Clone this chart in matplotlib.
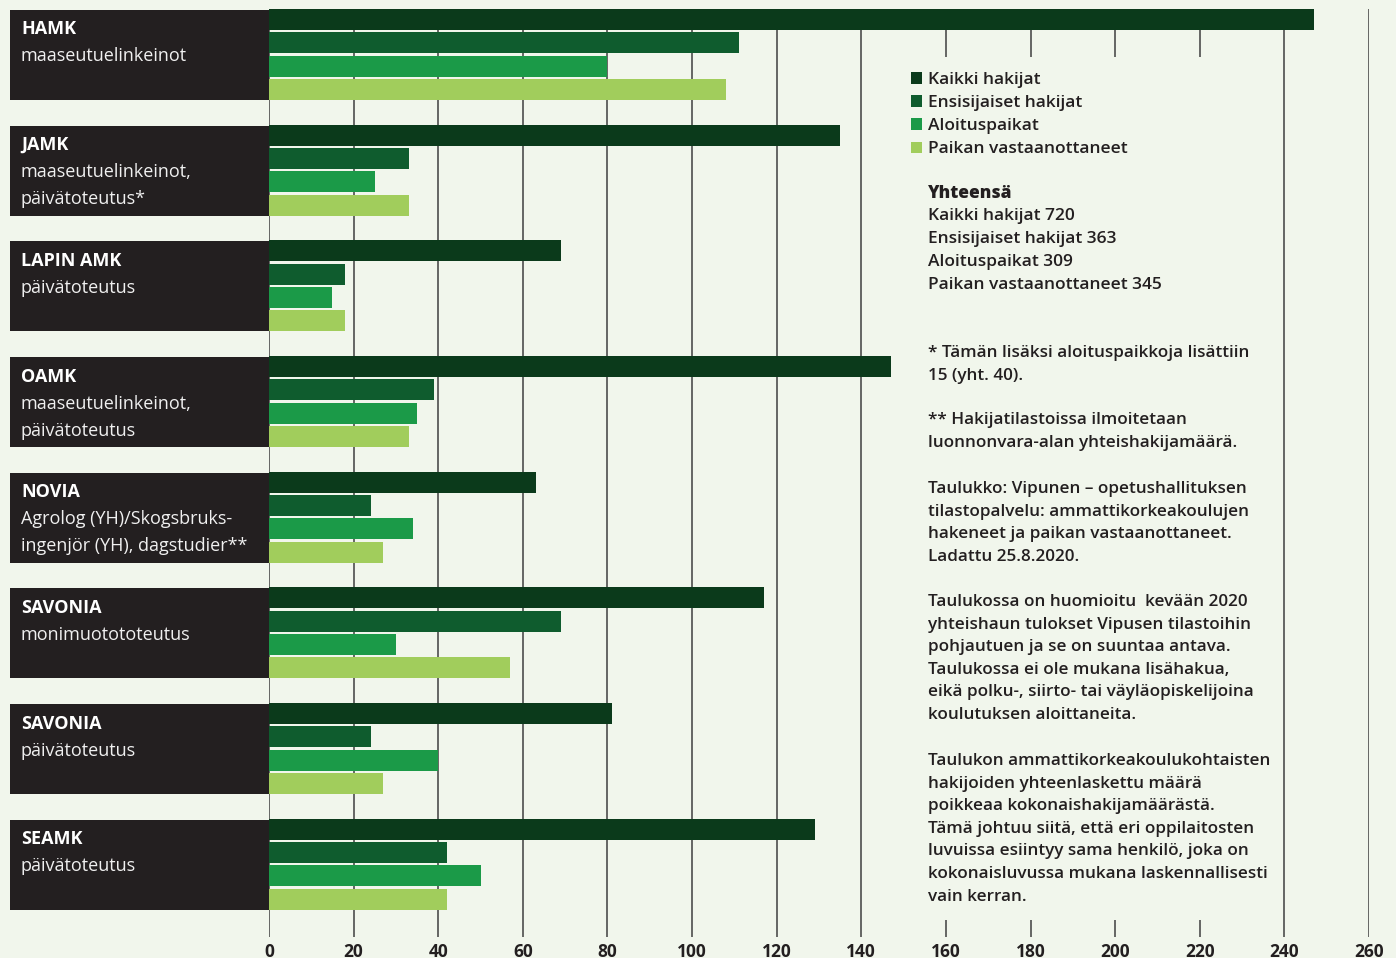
import matplotlib.pyplot as plt
from matplotlib.patches import Rectangle
import matplotlib.transforms as mtransforms

# Schools (bold name) and programme text shown in the dark label boxes
schools = ["HAMK", "JAMK", "LAPIN AMK", "OAMK", "NOVIA", "SAVONIA", "SAVONIA", "SEAMK"]
programmes = [
    "maaseutuelinkeinot",
    "maaseutuelinkeinot,\npäivätoteutus*",
    "päivätoteutus",
    "maaseutuelinkeinot,\npäivätoteutus",
    "Agrolog (YH)/Skogsbruks-\ningenjör (YH), dagstudier**",
    "monimuotototeutus",
    "päivätoteutus",
    "päivätoteutus",
]

# Values
kaikki = [247, 135, 69, 147, 63, 117, 81, 129]
ensisijaiset = [111, 33, 18, 39, 24, 69, 24, 42]
aloituspaikat = [80, 25, 15, 35, 34, 30, 40, 50]
vastaanottaneet = [108, 33, 18, 33, 27, 57, 27, 42]

series_names = ["Kaikki hakijat", "Ensisijaiset hakijat", "Aloituspaikat", "Paikan vastaanottaneet"]
colors = ["#0b3a1b", "#0f5c2e", "#1b9a48", "#a1cd5c"]
xticks = list(range(0, 261, 20))

totals_title = "Yhteensä"
totals = ["Kaikki hakijat 720", "Ensisijaiset hakijat 363", "Aloituspaikat 309",
          "Paikan vastaanottaneet 345"]
notes = [
    ["* Tämän lisäksi aloituspaikkoja lisättiin", "15 (yht. 40)."],
    ["** Hakijatilastoissa ilmoitetaan", "luonnonvara-alan yhteishakijamäärä."],
    ["Taulukko: Vipunen – opetushallituksen", "tilastopalvelu: ammattikorkeakoulujen",
     "hakeneet ja paikan vastaanottaneet.", "Ladattu 25.8.2020."],
    ["Taulukossa on huomioitu  kevään 2020", "yhteishaun tulokset Vipusen tilastoihin",
     "pohjautuen ja se on suuntaa antava.", "Taulukossa ei ole mukana lisähakua,",
     "eikä polku-, siirto- tai väyläopiskelijoina", "koulutuksen aloittaneita."],
    ["Taulukon ammattikorkeakoulukohtaisten", "hakijoiden yhteenlaskettu määrä",
     "poikkeaa kokonaishakijamäärästä.", "Tämä johtuu siitä, että eri oppilaitosten",
     "luvuissa esiintyy sama henkilö, joka on", "kokonaisluvussa mukana laskennallisesti",
     "vain kerran."],
]

BG = "#f1f6ec"
DARK = "#231f20"
W, H = 1396, 958
FONT = "Open Sans"

# layout in pixel-like units
GROUP_STEP = 115.7
BAR_STEP = 23.3
BAR_H = 21


def fx(px):
    return px / W


def fy(py):
    return 1 - py / H


def main():
    fig = plt.figure(figsize=(W / 100, H / 100), dpi=100, facecolor=BG)
    ax = fig.add_axes([fx(269), fy(937), fx(1369) - fx(269), (937 - 9) / H])
    ax.set_facecolor(BG)
    ax.set_xlim(0, 260)
    ax.set_ylim(928, 0)
    for s in ax.spines.values():
        s.set_visible(False)
    ax.set_yticks([])
    ax.set_xticks(xticks)
    ax.tick_params(axis="x", length=0, pad=4)
    for lab in ax.get_xticklabels():
        lab.set_fontfamily(FONT)
        lab.set_fontweight("bold")
        lab.set_fontsize(12.5)
        lab.set_color(DARK)

    # vertical gridlines
    for t in xticks:
        ax.axvline(t, color="#4d4d4d", lw=1.2, zorder=0)
    # text panel hides grid lines behind notes
    ax.add_patch(Rectangle((150, 48), 80, 863, facecolor=BG, edgecolor="none", zorder=0.5))

    series = [kaikki, ensisijaiset, aloituspaikat, vastaanottaneet]
    trans = mtransforms.blended_transform_factory(ax.transAxes, ax.transData)
    x0 = (10 - 269) / 1100
    for g in range(len(schools)):
        top = g * GROUP_STEP
        for j, vals in enumerate(series):
            ax.barh(top + j * BAR_STEP + BAR_H / 2, vals[g], height=BAR_H,
                    color=colors[j], zorder=2)
        ax.add_patch(Rectangle((x0, top + 1), -x0, 90, transform=trans,
                               facecolor=DARK, edgecolor="none", clip_on=False, zorder=3))
        tx = (21 - 269) / 1100
        ax.text(tx, top + 20.5, schools[g], transform=trans, color="white",
                fontfamily=FONT, fontweight="bold", fontsize=13, va="center", zorder=4)
        for k, line in enumerate(programmes[g].split("\n")):
            ax.text(tx, top + 47.5 + k * 27, line, transform=trans, color="#f0f0f0",
                    fontfamily=FONT, fontsize=13, va="center", zorder=4)

    # legend
    for j, name in enumerate(series_names):
        y = 78 + j * 23
        fig.patches.append(Rectangle((fx(911), fy(y + 5.5)), 11 / W, 11 / H,
                                     facecolor=colors[j], transform=fig.transFigure))
        fig.text(fx(928), fy(y + 2), name, color=DARK, fontfamily=FONT, fontsize=12.5,
                 fontweight="semibold", va="center")

    fig.text(fx(928), fy(193), totals_title, color=DARK, fontfamily=FONT, fontsize=12.5,
             fontweight="heavy", va="center")
    for k, line in enumerate(totals):
        fig.text(fx(928), fy(216 + k * 23), line, color=DARK, fontfamily=FONT,
                 fontsize=12.5, fontweight="semibold", va="center")

    starts = [353, 420, 489, 602, 761]
    for start, block in zip(starts, notes):
        for k, line in enumerate(block):
            fig.text(fx(928), fy(start + k * 22.6), line, color=DARK, fontfamily=FONT,
                     fontsize=12.3, fontweight="semibold", va="center")

    fig.savefig("out.png", dpi=100, facecolor=BG)


if __name__ == '__main__':
    main()
